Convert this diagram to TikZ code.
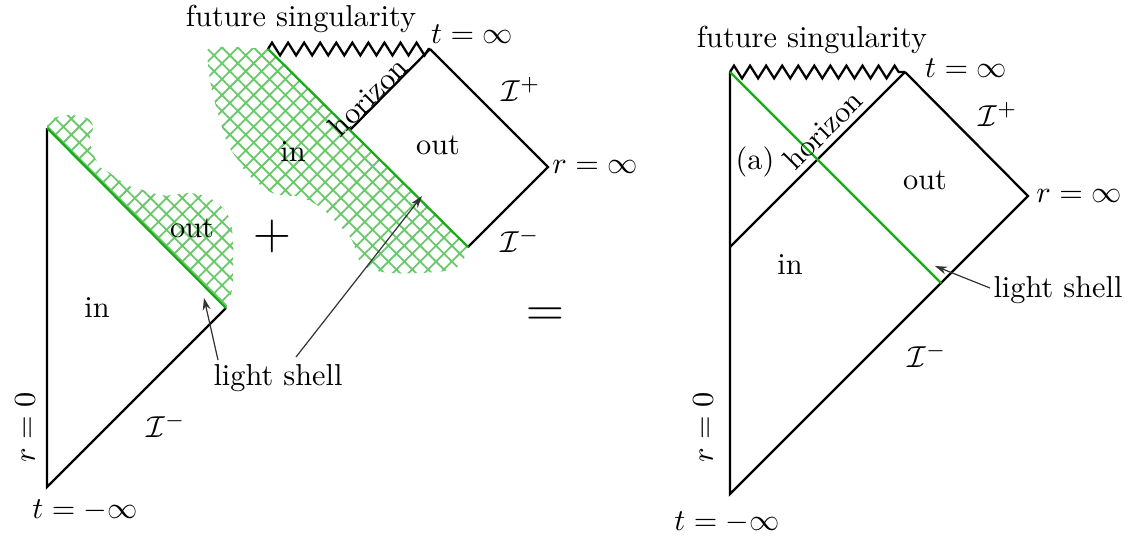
\documentclass[tikz,border=0pt]{standalone}
\usetikzlibrary{patterns.meta,decorations.pathmorphing,arrows.meta}
\definecolor{shell}{RGB}{25,170,25}
\definecolor{hatchc}{RGB}{105,200,105}
\begin{document}
\begin{tikzpicture}[x=0.33pt,y=-0.33pt,
  wl/.style={line width=0.75pt, black},
  gl/.style={line width=0.75pt, shell},
  sing/.style={line width=0.75pt, black, decorate, decoration={zigzag, segment length=5.3pt, amplitude=2.1pt}},
  hatch/.style={pattern={Hatch[angle=45,distance=3.7pt,line width=0.6pt]}, pattern color=hatchc},
  lbl/.style={inner sep=0pt},
  ptr/.style={line width=0.4pt, black!80, -{Stealth[length=4pt,width=2.6pt,inset=1.3pt]}},
  big/.style={inner sep=0pt, font=\fontsize{18}{21}\selectfont}]
\useasboundingbox (0,0) rectangle (1132,539);

% ---------- left diagram ----------
\coordinate (L1) at (47,128);
\coordinate (L2) at (47,487);
\coordinate (L3) at (226,308);
\fill[hatch] (L3) -- (L1) -- plot[smooth, tension=0.6] coordinates {(47,128) (50,120) (67,115) (87,118) (93,127) (90,137) (92,150) (100,167) (110,173) (127,185) (143,190) (160,195) (173,195) (190,193) (207,197) (222,207) (230,220) (233,240) (233,267) (232,290) (226,308)} -- cycle;
\draw[wl] (L1) -- (L2) -- (L3);
\draw[gl] (L1) -- (L3);

% ---------- middle diagram ----------
\coordinate (M1) at (268,49);
\coordinate (M2) at (430,49);
\coordinate (M3) at (548,167);
\coordinate (M4) at (468,247);
\coordinate (MH) at (350,130);
\fill[hatch] (M1) -- (M4) -- plot[smooth, tension=0.6] coordinates {(468,247) (462,262) (450,270) (420,273) (390,273) (368,268) (358,258) (355,248) (350,237) (337,223) (320,207) (300,197) (280,195) (267,190) (247,173) (238,160) (228,145) (222,127) (215,103) (210,80) (208,63) (208,49) (230,47) (268,49)} -- cycle;
\draw[sing] (M1) -- (M2);
\draw[wl] (M2) -- (M3) -- (M4);
\draw[wl] (M2) -- (MH);
\draw[gl] (M1) -- (M4);

% ---------- right diagram ----------
\coordinate (R1) at (730,72);
\coordinate (R2) at (905,72);
\coordinate (R3) at (1028,196);
\coordinate (R4) at (730,494);
\coordinate (RG) at (941,283);
\coordinate (RH) at (730,247);
\draw[sing] (R1) -- (R2);
\draw[wl] (R2) -- (R3) -- (R4) -- (R1);
\draw[wl] (R2) -- (RH);
\draw[gl] (R1) -- (RG);

% ---------- labels: left ----------
\node[lbl] (lout) at (192,228) {out};
\node[lbl] (lin) at (97,308) {in};
\node[lbl] (lshell) at (278,378) {light shell};
\node[lbl, rotate=90] (lr0) at (25,427) {$r=0$};
\node[lbl] (ltm) at (85,510) {$t=-\infty$};
\node[lbl] (lscri) at (166,425) {$\mathcal{I}^-$};
\coordinate (la1s) at (218,360);
\coordinate (la1e) at (204,298);
\coordinate (la2s) at (296,357);
\coordinate (la2e) at (422,196);
\draw[ptr] (la1s) -- (la1e);
\draw[ptr] (la2s) -- (la2e);

% ---------- labels: middle ----------
\node[lbl] (mfs) at (301,19) {future singularity};
\node[lbl] (mtinf) at (472,34) {$t=\infty$};
\node[lbl] (mscp) at (521,89) {$\mathcal{I}^+$};
\node[lbl] (mrinf) at (595,167) {$r=\infty$};
\node[lbl] (mscm) at (520,240) {$\mathcal{I}^-$};
\node[lbl] (mout) at (438,145) {out};
\node[lbl] (min) at (293,152) {in};
\node[lbl, rotate=45] (mhor) at (368,97) {horizon};
\node[big] (plus) at (272,236) {$+$};
\node[big] (equals) at (545,317) {$=$};

% ---------- labels: right ----------
\node[lbl] (rfs) at (812,40) {future singularity};
\node[lbl] (rtinf) at (966,68) {$t=\infty$};
\node[lbl] (rscp) at (998,114) {$\mathcal{I}^+$};
\node[lbl] (rrinf) at (1079,196) {$r=\infty$};
\node[lbl] (rout) at (925,180) {out};
\node[lbl] (rin) at (790,265) {in};
\node[lbl] (ra) at (755,162) {(a)};
\node[lbl, rotate=45] (rhor) at (823,130) {horizon};
\node[lbl] (rshell) at (1058,290) {light shell};
\node[lbl] (rscm) at (927,355) {$\mathcal{I}^-$};
\node[lbl, rotate=90] (rr0) at (703,427) {$r=0$};
\node[lbl] (rtm) at (727,522) {$t=-\infty$};
\coordinate (ras) at (990,288);
\coordinate (rae) at (935,266);
\draw[ptr] (ras) -- (rae);
\end{tikzpicture}
\end{document}
